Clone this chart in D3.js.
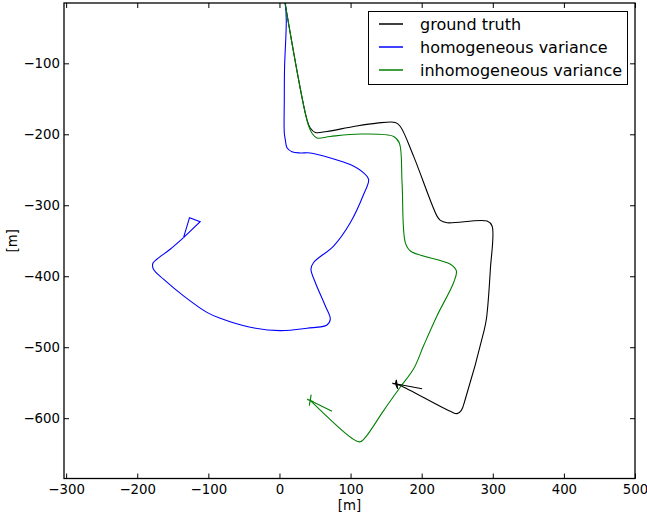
<!DOCTYPE html>
<html lang="en">
<head>
<meta charset="UTF-8">
<title>Trajectory estimates</title>
<script src="https://cdnjs.cloudflare.com/ajax/libs/d3/7.8.5/d3.min.js"></script>
<style>
    body { margin: 0; padding: 0; background: #ffffff; }
    svg { display: block; font-family: "DejaVu Sans", sans-serif; }
</style>
</head>
<body>
<div id="chart"></div>
<script>
    // trajectories in metres, [x, y]; the *End arrays are the jagged final bits
    const groundTruth = [
        [7, -10], [38.7, -179.6], [43.3, -191.2], [50.4, -197.4], [66.8, -196.0],
        [104.3, -189.0], [137.2, -184.2], [163.0, -183.4], [170.0, -189.0],
        [188.7, -231.1], [221.6, -315.3], [226.3, -321.3], [235.7, -324.6],
        [292.0, -322.3], [299.0, -329.3], [296.6, -390.1], [291.0, -460.3],
        [287.2, -478.9], [261.5, -572.6], [255.8, -589.0], [249.8, -593.6],
        [240.4, -590.4], [170.0, -553.9], [163.0, -551.5]
    ];
    const groundTruthEnd = [
        [163.0, -551.5], [164.4, -545.9], [166.2, -558.5], [163.0, -551.5],
        [158.8, -551.0], [168.2, -553.0], [163.0, -551.5], [200.5, -558.5]
    ];
    const homogeneous = [
        [8, -10], [9.6, -39.2], [7.2, -105.2], [6.8, -151.5], [6.8, -197.8],
        [8.2, -207.6], [10.6, -218.9], [17.6, -224.5], [29.3, -226.3], [43.3, -226.3],
        [71.5, -233.3], [99.6, -242.7], [118.3, -254.4], [125.4, -263.8],
        [118.3, -284.8], [99.6, -324.6], [76.1, -357.4], [48.0, -380.7],
        [44.3, -390.1], [50.4, -408.8], [64.4, -441.6], [71.5, -460.3],
        [66.8, -468.7], [38.7, -473.3], [1.1, -476.7], [-41.1, -471.9],
        [-83.3, -459.3], [-102.0, -450.9], [-134.9, -427.6], [-163.1, -404.1],
        [-177.2, -390.1], [-178.0, -381.7], [-172.4, -376.1], [-153.7, -362.0],
        [-134.9, -345.6]
    ];
    const homogeneousEnd = [
        [-134.9, -345.6], [-126.5, -317.5], [-111.5, -323.2], [-134.9, -345.6]
    ];
    const inhomogeneous = [
        [7, -10], [40.5, -186.6], [46.2, -199.2], [52.8, -205.3], [71.5, -203.0],
        [113.7, -199.6], [160.6, -203.0], [168.6, -212.3], [172.4, -268.0],
        [177.0, -352.6], [184.1, -364.4], [240.4, -383.1], [248.8, -392.5],
        [245.0, -408.8], [221.6, -455.6], [202.8, -497.7], [188.7, -530.5],
        [170.0, -556.1], [146.0, -590.0], [123.1, -624.1], [113.7, -633.3],
        [102.4, -628.7], [43.3, -575.0]
    ];
    const inhomogeneousEnd = [
        [43.3, -575.0], [44.6, -566.9], [41.9, -582.4], [43.3, -575.0],
        [39.0, -573.5], [48.0, -577.0], [43.3, -575.0], [73.9, -590.4]
    ];

    const seriesNames = ["ground truth", "homogeneous variance", "inhomogeneous variance"];
    const seriesColors = ["#000000", "#0000ff", "#008000"];
    const xTicks = [-300, -200, -100, 0, 100, 200, 300, 400, 500];
    const yTicks = [-100, -200, -300, -400, -500, -600];

    const width = 647, height = 516;
    const plotLeft = 64, plotRight = 635, plotTop = 3, plotBottom = 478.5;

    const x = d3.scaleLinear().domain([-303, 500]).range([plotLeft, plotRight]);
    const y = d3.scaleLinear().domain([-15, -685]).range([plotTop, plotBottom]);

    const svg = d3.select("#chart").append("svg")
        .attr("width", width)
        .attr("height", height);

    svg.append("defs").append("clipPath").attr("id", "plot-clip")
        .append("rect")
        .attr("x", plotLeft).attr("y", plotTop)
        .attr("width", plotRight - plotLeft).attr("height", plotBottom - plotTop);

    const smooth = d3.line()
        .x(d => x(d[0])).y(d => y(d[1]))
        .curve(d3.curveCatmullRom.alpha(0.5));
    const straight = d3.line().x(d => x(d[0])).y(d => y(d[1]));

    const tracks = [groundTruth, homogeneous, inhomogeneous];
    const ends = [groundTruthEnd, homogeneousEnd, inhomogeneousEnd];
    const plot = svg.append("g").attr("clip-path", "url(#plot-clip)");
    plot.selectAll("path.track")
        .data(tracks)
        .join("path").attr("class", "track")
        .attr("d", smooth)
        .attr("fill", "none")
        .attr("stroke", (d, i) => seriesColors[i])
        .attr("stroke-width", 1.1);
    plot.selectAll("path.end")
        .data(ends)
        .join("path").attr("class", "end")
        .attr("d", straight)
        .attr("fill", "none")
        .attr("stroke", (d, i) => seriesColors[i])
        .attr("stroke-width", 1.1)
        .attr("stroke-linejoin", "miter");

    // axes with inward ticks, like old matplotlib
    const fmt = d => d < 0 ? "\u2212" + Math.abs(d) : String(d);
    const tickStyle = g => {
        g.select(".domain").remove();
        g.selectAll(".tick line").attr("stroke", "#000").attr("stroke-width", 1);
        g.selectAll(".tick text").attr("font-size", 13.3).attr("fill", "#000")
            .attr("font-family", "DejaVu Sans, sans-serif");
    };

    svg.append("g").attr("transform", `translate(0,${plotBottom})`)
        .call(d3.axisBottom(x).tickValues(xTicks).tickFormat(fmt).tickSizeInner(-5).tickPadding(6))
        .call(tickStyle);
    svg.append("g").attr("transform", `translate(0,${plotTop})`)
        .call(d3.axisTop(x).tickValues(xTicks).tickFormat("").tickSizeInner(-5))
        .call(tickStyle);
    svg.append("g").attr("transform", `translate(${plotLeft},0)`)
        .call(d3.axisLeft(y).tickValues(yTicks).tickFormat(fmt).tickSizeInner(-5).tickPadding(4))
        .call(tickStyle);
    svg.append("g").attr("transform", `translate(${plotRight},0)`)
        .call(d3.axisRight(y).tickValues(yTicks).tickFormat("").tickSizeInner(-5))
        .call(tickStyle);

    svg.append("rect")
        .attr("x", plotLeft).attr("y", plotTop)
        .attr("width", plotRight - plotLeft).attr("height", plotBottom - plotTop)
        .attr("fill", "none").attr("stroke", "#000").attr("stroke-width", 1.3);

    svg.append("text")
        .attr("x", (plotLeft + plotRight) / 2).attr("y", 510)
        .attr("text-anchor", "middle").attr("font-size", 13.3)
        .text("[m]");
    svg.append("text")
        .attr("transform", `translate(17,${(plotTop + plotBottom) / 2}) rotate(-90)`)
        .attr("text-anchor", "middle").attr("font-size", 13.3)
        .text("[m]");

    // legend
    const legend = svg.append("g");
    legend.append("rect")
        .attr("x", 368.5).attr("y", 11.5).attr("width", 259).attr("height", 73)
        .attr("fill", "#fff").attr("stroke", "#000").attr("stroke-width", 1);
    const item = legend.selectAll("g.item")
        .data(seriesNames)
        .join("g").attr("class", "item")
        .attr("transform", (d, i) => `translate(0,${24 + i * 23})`);
    item.append("line")
        .attr("x1", 379).attr("x2", 403)
        .attr("stroke", (d, i) => seriesColors[i]).attr("stroke-width", 1.5);
    item.append("text")
        .attr("x", 420).attr("dy", "0.35em")
        .attr("font-size", 16)
        .text(d => d);
</script>
</body>
</html>
